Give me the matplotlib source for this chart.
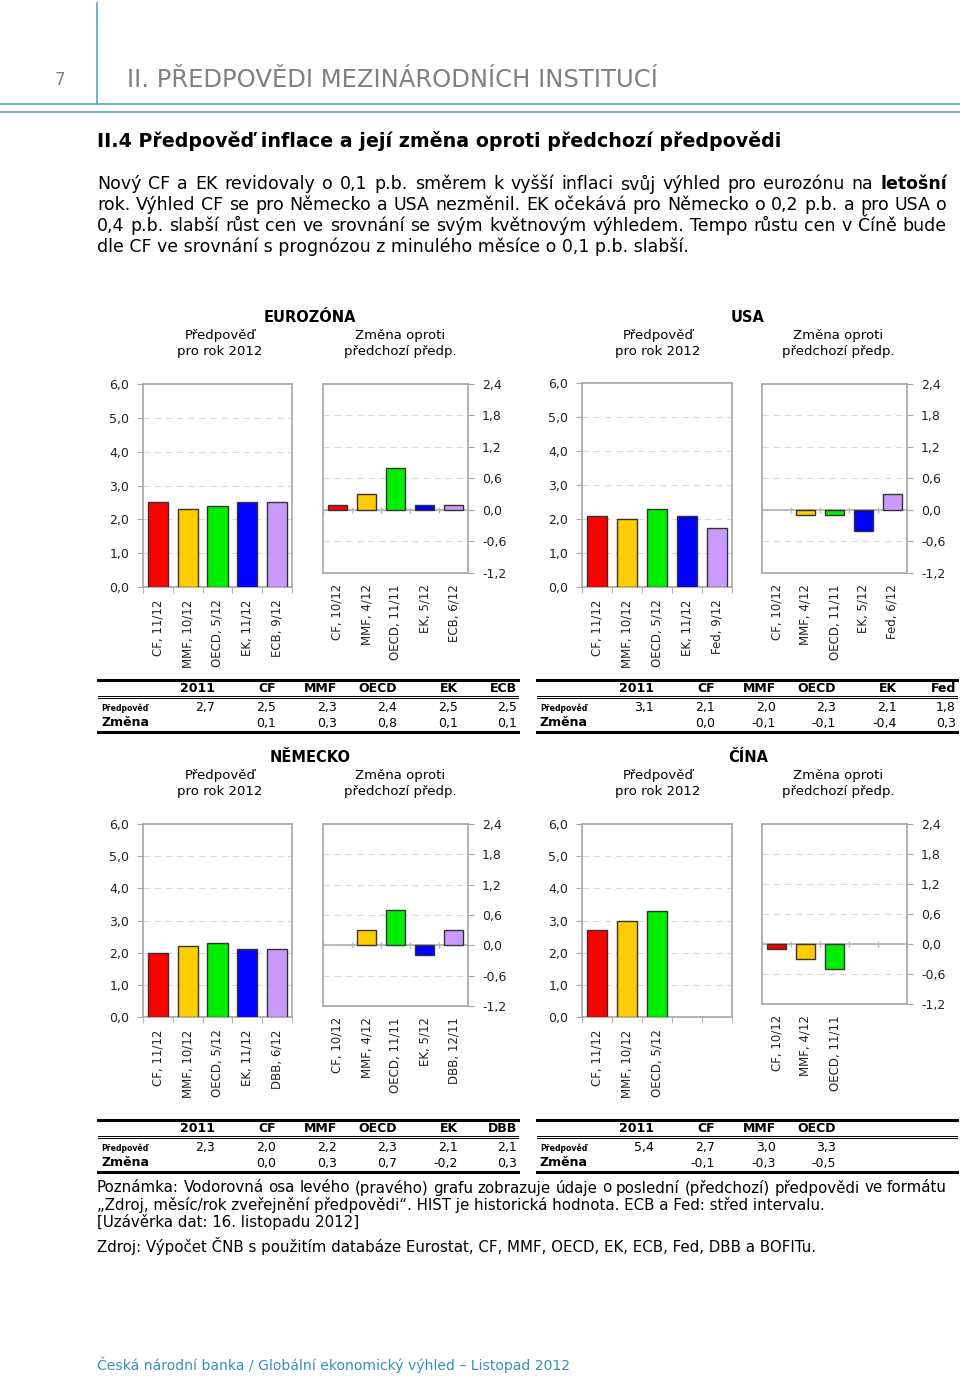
import numpy as np
import matplotlib
matplotlib.use("Agg")
import matplotlib.pyplot as plt
from matplotlib.ticker import FuncFormatter

# ---- data -------------------------------------------------------------
ez_fc_labels = ["CF, 11/12", "MMF, 10/12", "OECD, 5/12", "EK, 11/12", "ECB, 9/12"]
ez_fc_values = [2.5, 2.3, 2.4, 2.5, 2.5]
ez_ch_labels = ["CF, 10/12", "MMF, 4/12", "OECD, 11/11", "EK, 5/12", "ECB, 6/12"]
ez_ch_values = [0.1, 0.3, 0.8, 0.1, 0.1]
ez_hist = 2.7
ez_cols = ["2011", "CF", "MMF", "OECD", "EK", "ECB"]

us_fc_labels = ["CF, 11/12", "MMF, 10/12", "OECD, 5/12", "EK, 11/12", "Fed, 9/12"]
us_fc_values = [2.1, 2.0, 2.3, 2.1, 1.75]
us_ch_labels = ["CF, 10/12", "MMF, 4/12", "OECD, 11/11", "EK, 5/12", "Fed, 6/12"]
us_ch_values = [0.0, -0.1, -0.1, -0.4, 0.3]
us_hist = 3.1
us_cols = ["2011", "CF", "MMF", "OECD", "EK", "Fed"]

de_fc_labels = ["CF, 11/12", "MMF, 10/12", "OECD, 5/12", "EK, 11/12", "DBB, 6/12"]
de_fc_values = [2.0, 2.2, 2.3, 2.1, 2.1]
de_ch_labels = ["CF, 10/12", "MMF, 4/12", "OECD, 11/11", "EK, 5/12", "DBB, 12/11"]
de_ch_values = [0.0, 0.3, 0.7, -0.2, 0.3]
de_hist = 2.3
de_cols = ["2011", "CF", "MMF", "OECD", "EK", "DBB"]

cn_fc_labels = ["CF, 11/12", "MMF, 10/12", "OECD, 5/12"]
cn_fc_values = [2.7, 3.0, 3.3]
cn_ch_labels = ["CF, 10/12", "MMF, 4/12", "OECD, 11/11"]
cn_ch_values = [-0.1, -0.3, -0.5]
cn_hist = 5.4
cn_cols = ["2011", "CF", "MMF", "OECD"]

fc_ticks = [0, 1, 2, 3, 4, 5, 6]
ch_ticks = [-1.2, -0.6, 0.0, 0.6, 1.2, 1.8, 2.4]

bar_colors = ["#ff0000", "#ffcc00", "#00ee00", "#0000ff", "#cc99ff"]
BLUE = "#4a9bbf"
GRID = "#a6a6a6"

W, H = 960, 1377
fig = plt.figure(figsize=(W / 100, H / 100), dpi=100)
fig.patch.set_facecolor("white")

# page overlay in pixel coordinates
pg = fig.add_axes([0, 0, 1, 1])
pg.set_xlim(0, W)
pg.set_ylim(H, 0)
pg.axis("off")


def comma(v, _=None):
    return f"{v:.1f}".replace(".", ",")


def px_axes(x0, x1, y0, y1):
    return fig.add_axes([x0 / W, 1 - y1 / H, (x1 - x0) / W, (y1 - y0) / H])


def justify(line, x0, x1, y, size, bold_words=()):
    words = line.split(" ")
    texts = [pg.text(0, y, w, fontsize=size, va="center",
                     fontweight="bold" if w in bold_words else "normal")
             for w in words]
    r = fig.canvas.get_renderer()
    widths = [t.get_window_extent(r).width for t in texts]
    gap = (x1 - x0 - sum(widths)) / (len(texts) - 1)
    x = x0
    for t, w in zip(texts, widths):
        t.set_x(x)
        x += w + gap


def bar_chart(ax, labels, values, slots, ylim, ticks, right=False):
    x = np.arange(len(values))
    edges = ["#333333" if v != 0 else "none" for v in values]
    ax.bar(x, values, width=0.68, color=bar_colors[:len(values)],
           edgecolor=edges, linewidth=1, zorder=3)
    ax.set_xlim(-0.5, slots - 0.5)
    ax.set_ylim(*ylim)
    ax.set_yticks(ticks)
    ax.yaxis.set_major_formatter(FuncFormatter(comma))
    for t in ticks[1:-1]:
        ax.axhline(t, color="#dadada", lw=0.8, ls=(0, (6, 4)), zorder=1)
    for s in ax.spines.values():
        s.set_color(GRID)
        s.set_linewidth(1.2)
    ax.set_xticks(x)
    ax.set_xticklabels(labels, rotation=90, fontsize=8.5, color="#222222")
    ax.set_xticks(np.arange(slots + 1) - 0.5, minor=True)
    ax.tick_params(axis="x", which="major", length=0, pad=9 if not right else 8)
    ax.tick_params(axis="y", labelsize=9, colors="#222222", length=4,
                   color=GRID, pad=6)
    if right:
        ax.yaxis.tick_right()
        ax.tick_params(axis="x", which="minor", length=0)
        ax.axhline(0, color="#b0b0b0", lw=1.2, zorder=2)
        ax.plot(np.arange(slots + 1) - 0.5, np.zeros(slots + 1), ls="none",
                marker="|", ms=5, color="#b8b8b8", zorder=2)
    else:
        ax.tick_params(axis="x", which="minor", length=4, color=GRID)


def table(x0, ytop, cols, hist, fc, ch):
    x1 = x0 + 420
    pg.plot([x0, x1], [ytop, ytop], color="black", lw=2.2)
    pg.plot([x0, x1], [ytop + 16, ytop + 16], color="black", lw=0.7)
    pg.plot([x0, x1], [ytop + 18, ytop + 18], color="black", lw=0.7)
    pg.plot([x0, x1], [ytop + 52, ytop + 52], color="black", lw=2.2)
    rights = [117, 178, 239, 299, 360, 419]
    row1 = [comma(hist)] + [comma(v) for v in fc]
    row2 = [""] + [comma(v) for v in ch]
    for i, c in enumerate(cols):
        xr = x0 + rights[i]
        pg.text(xr, ytop + 8, c, ha="right", va="center", fontsize=9,
                fontweight="bold")
        pg.text(xr, ytop + 27, row1[i], ha="right", va="center", fontsize=9)
        pg.text(xr, ytop + 43, row2[i], ha="right", va="center", fontsize=9)
    pg.text(x0 + 3, ytop + 28, "Předpověď", ha="left", va="center",
            fontsize=5.6, fontweight="bold")
    pg.text(x0 + 3, ytop + 43, "Změna", ha="left", va="center",
            fontsize=9, fontweight="bold")


def block_titles(cx_left, cx_right, cx_title, y, name):
    pg.text(cx_title, y, name, ha="center", va="center", fontsize=10.5,
            fontweight="bold")
    pg.text(cx_left, y + 17, "Předpověď", ha="center", va="center", fontsize=9.5)
    pg.text(cx_left, y + 34, "pro rok 2012", ha="center", va="center", fontsize=9.5)
    pg.text(cx_right, y + 17, "Změna oproti", ha="center", va="center", fontsize=9.5)
    pg.text(cx_right, y + 34, "předchozí předp.", ha="center", va="center",
            fontsize=9.5)


# ---- page header ------------------------------------------------------
pg.plot([97, 97], [3, 104], color=BLUE, lw=1.1)
pg.plot([0, W], [104, 104], color=BLUE, lw=1.1)
pg.plot([0, W], [112, 112], color=BLUE, lw=1.1)
pg.text(60, 80, "7", ha="center", va="center", fontsize=12, color="#808080")
pg.text(127, 80, "II. PŘEDPOVĚDI MEZINÁRODNÍCH INSTITUCÍ", ha="left",
        va="center", fontsize=17.5, color="#808080")
pg.text(97, 141, "II.4 Předpověď inflace a její změna oproti předchozí předpovědi",
        ha="left", va="center", fontsize=13.7, fontweight="bold")

para = [
    "Nový CF a EK revidovaly o 0,1 p.b. směrem k vyšší inflaci svůj výhled pro eurozónu na letošní",
    "rok. Výhled CF se pro Německo a USA nezměnil. EK očekává pro Německo o 0,2 p.b. a pro USA o",
    "0,4 p.b. slabší růst cen ve srovnání se svým květnovým výhledem. Tempo růstu cen v Číně bude",
]
for i, line in enumerate(para):
    justify(line, 97, 947, 184 + 21 * i, 12.5, bold_words=("letošní",))
pg.text(97, 247, "dle CF ve srovnání s prognózou z minulého měsíce o 0,1 p.b. slabší.",
        ha="left", va="center", fontsize=12.5)

# ---- charts -----------------------------------------------------------
block_titles(220, 400, 310, 318, "EUROZÓNA")
block_titles(658, 838, 748, 318, "USA")
block_titles(220, 400, 310, 758, "NĚMECKO")
block_titles(658, 838, 748, 758, "ČÍNA")

bar_chart(px_axes(143, 292, 384, 587), ez_fc_labels, ez_fc_values, 5, (0, 6), fc_ticks)
bar_chart(px_axes(323, 468, 384, 573), ez_ch_labels, ez_ch_values, 5, (-1.2, 2.4), ch_ticks, right=True)
bar_chart(px_axes(582, 732, 383, 587), us_fc_labels, us_fc_values, 5, (0, 6), fc_ticks)
bar_chart(px_axes(762, 907, 384, 573), us_ch_labels, us_ch_values, 5, (-1.2, 2.4), ch_ticks, right=True)
bar_chart(px_axes(143, 292, 824, 1017), de_fc_labels, de_fc_values, 5, (0, 6), fc_ticks)
bar_chart(px_axes(323, 468, 824, 1006), de_ch_labels, de_ch_values, 5, (-1.2, 2.4), ch_ticks, right=True)
bar_chart(px_axes(582, 732, 824, 1017), cn_fc_labels, cn_fc_values, 5, (0, 6), fc_ticks)
bar_chart(px_axes(762, 907, 824, 1004), cn_ch_labels, cn_ch_values, 5, (-1.2, 2.4), ch_ticks, right=True)

# ---- tables -----------------------------------------------------------
table(98, 680, ez_cols, ez_hist, ez_fc_values, ez_ch_values)
table(537, 680, us_cols, us_hist, us_fc_values, us_ch_values)
table(98, 1120, de_cols, de_hist, de_fc_values, de_ch_values)
table(537, 1120, cn_cols, cn_hist, cn_fc_values, cn_ch_values)

# ---- notes ------------------------------------------------------------
justify("Poznámka: Vodorovná osa levého (pravého) grafu zobrazuje údaje o poslední "
        "(předchozí) předpovědi ve formátu", 97, 947, 1188, 10.8)
pg.text(97, 1205, "„Zdroj, měsíc/rok zveřejnění předpovědi“. HIST je historická hodnota. "
        "ECB a Fed: střed intervalu.", ha="left", va="center", fontsize=10.8)
pg.text(97, 1222, "[Uzávěrka dat: 16. listopadu 2012]", ha="left", va="center", fontsize=10.8)
pg.text(97, 1246, "Zdroj: Výpočet ČNB s použitím databáze Eurostat, CF, MMF, OECD, EK, "
        "ECB, Fed, DBB a BOFITu.", ha="left", va="center", fontsize=10.8)

pg.text(97, 1365, "Česká národní banka / Globální ekonomický výhled – Listopad 2012",
        ha="left", va="center", fontsize=10.1, color="#3a8fb7")

fig.savefig("out.png", dpi=100)
